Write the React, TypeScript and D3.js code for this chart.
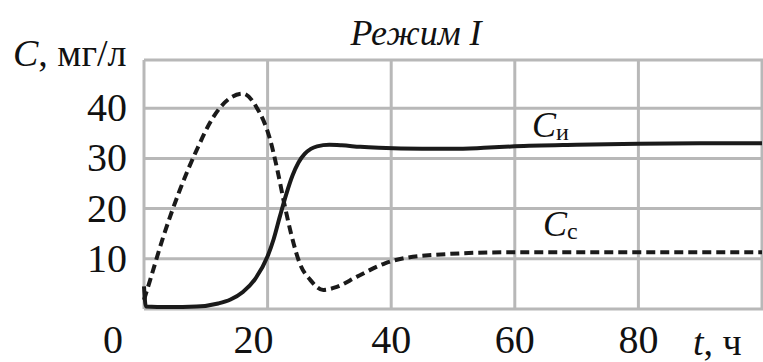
import React from 'react';
import * as d3 from 'd3';

// curve C_и (solid)
const tI = [0, 0.3, 4, 8.5, 12, 14, 16, 18, 20, 21, 22, 23, 24, 25, 26, 27, 28, 30, 32, 35, 38, 45, 50, 55, 60, 70, 80, 90, 100];
const cI = [4.5, 0.5, 0.4, 0.5, 1.1, 1.9, 3.4, 6.0, 10.5, 14.0, 18.5, 22.8, 26.5, 29.2, 30.9, 31.9, 32.4, 32.7, 32.6, 32.3, 32.1, 31.9, 31.9, 32.1, 32.4, 32.7, 32.9, 33, 33];

// curve C_c (dashed)
const tC = [0, 1, 3.1, 5.8, 8.5, 11.2, 13.9, 16, 18.2, 20.3, 21.6, 22.7, 23.8, 25.2, 26.9, 29, 31.2, 34.4, 39, 46, 59, 70, 100];
const cC = [1.8, 5.8, 14.3, 23.7, 31.6, 38.2, 42, 42.9, 40.2, 34.2, 27.6, 21, 15, 9.1, 5.8, 3.8, 4.4, 6.4, 9.1, 10.7, 11.3, 11.3, 11.3];

const xTicks = [0, 20, 40, 60, 80];
const xGrid = [0, 20, 40, 60, 80, 100];
const yTicks = [10, 20, 30, 40];
const yGrid = [0, 10, 20, 30, 40];

const W = 763;
const H = 362;

export default function App() {
  const x = d3.scaleLinear().domain([0, 100]).range([144, 762]);
  const y = d3.scaleLinear().domain([0, 49.6]).range([309, 60]);

  const line = d3.line<[number, number]>()
    .x(d => x(d[0]))
    .y(d => y(d[1]))
    .curve(d3.curveMonotoneX);

  const dI = line(tI.map((t, i) => [t, cI[i]] as [number, number])) || '';
  const dC = line(tC.map((t, i) => [t, cC[i]] as [number, number])) || '';

  const font = '"Liberation Serif", "Times New Roman", serif';
  const grid = '#b8b8b8';
  const ink = '#1a1a1a';

  // the "0" and "20" labels sit a bit left of their grid lines in the original
  const xLabelShift: Record<number, number> = { 0: -31, 20: -14 };

  return (
    <svg width={W} height={H} style={{ position: 'absolute', left: 0, top: 0, background: '#fff' }}
      fontFamily={font}>
      {/* grid */}
      {xGrid.map(v => (
        <line key={'gx' + v} x1={x(v)} x2={x(v)} y1={y(49.6)} y2={y(0)} stroke={grid} strokeWidth={3} />
      ))}
      {yGrid.map(v => (
        <line key={'gy' + v} x1={x(0)} x2={W} y1={y(v)} y2={y(v)} stroke={grid} strokeWidth={3} />
      ))}
      <line x1={x(0)} x2={W} y1={y(49.6)} y2={y(49.6)} stroke={grid} strokeWidth={3} />

      {/* curves */}
      <path d={dC} fill="none" stroke={ink} strokeWidth={4} strokeDasharray="9 5" />
      <path d={dI} fill="none" stroke={ink} strokeWidth={4} />

      {/* y tick labels */}
      {yTicks.map(v => (
        <text key={'ty' + v} x={127} y={y(v) + 13} textAnchor="end" fontSize={40} fill="#111">{v}</text>
      ))}
      {/* x tick labels */}
      {xTicks.map(v => (
        <text key={'tx' + v} x={x(v) + (xLabelShift[v] || 0)} y={353} textAnchor="middle" fontSize={40} fill="#111">{v}</text>
      ))}

      {/* axis titles */}
      <text x={13} y={66} fontSize={38} fill="#111">
        <tspan fontStyle="italic">C</tspan>, мг/л
      </text>
      <text x={693} y={355} fontSize={38} fill="#111">
        <tspan fontStyle="italic">t</tspan>, ч
      </text>
      <text x={416} y={45} textAnchor="middle" fontSize={36} fontStyle="italic" fill="#111">Режим I</text>

      {/* curve labels */}
      <text x={532} y={137} fontSize={36} fill="#111">
        <tspan fontStyle="italic">C</tspan>
        <tspan fontSize={24} dy={3}>и</tspan>
      </text>
      <text x={543} y={236} fontSize={36} fill="#111">
        <tspan fontStyle="italic">C</tspan>
        <tspan fontSize={24} dy={3}>c</tspan>
      </text>
    </svg>
  );
}
